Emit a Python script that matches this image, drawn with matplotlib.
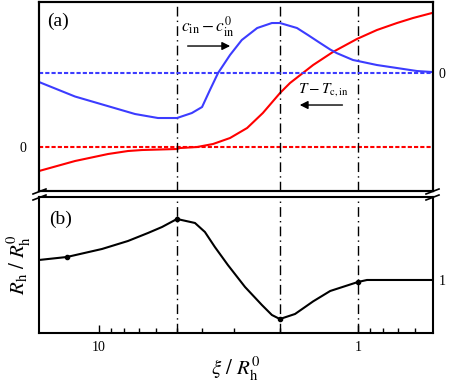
import matplotlib
matplotlib.use('Agg')
import matplotlib.pyplot as plt
import numpy as np
from matplotlib.lines import Line2D
from matplotlib.ticker import LogLocator, NullFormatter, FixedLocator, FixedFormatter

plt.rcParams['font.family'] = ['Liberation Serif', 'DejaVu Serif']
plt.rcParams['mathtext.fontset'] = 'stix'

# 数据
xi_blue = [17.05, 12.38, 7.26, 5.92, 5.0, 4.38, 4.0, 3.73, 3.47, 3.12, 2.81, 2.45,
           2.15, 2.0, 1.72, 1.56, 1.40, 1.28, 1.21, 1.045, 1.0, 0.845, 0.707, 0.592, 0.518]
c_blue = [-0.09, -0.235, -0.41, -0.45, -0.45, -0.40, -0.34, -0.17, 0.0, 0.18, 0.33, 0.45,
          0.50, 0.50, 0.45, 0.38, 0.30, 0.235, 0.20, 0.13, 0.12, 0.08, 0.05, 0.02, 0.01]

xi_red = [17.05, 12.38, 9.23, 7.73, 6.82, 5.0, 4.87, 4.18, 3.63, 3.12, 2.68, 2.33, 2.0,
          1.83, 1.67, 1.49, 1.25, 1.01, 0.845, 0.707, 0.613, 0.518]
t_red = [-0.24, -0.14, -0.07, -0.04, -0.03, -0.02, -0.01, 0.0, 0.03, 0.09, 0.19, 0.34, 0.54,
         0.64, 0.72, 0.82, 0.95, 1.08, 1.17, 1.24, 1.29, 1.34]

xi_rh = [17.05, 13.3, 9.74, 7.73, 6.47, 5.71, 5.0, 4.26, 3.90, 3.57, 3.18, 2.73, 2.35,
         2.15, 2.04, 2.0, 1.75, 1.60, 1.49, 1.28, 1.0, 0.923, 0.707, 0.518]
rh = [1.10, 1.115, 1.155, 1.195, 1.235, 1.265, 1.305, 1.285, 1.24, 1.165, 1.075, 0.965, 0.875,
      0.825, 0.81, 0.805, 0.83, 0.865, 0.893, 0.945, 0.99, 1.0, 1.0, 1.0]
mark_xi = [13.3, 5.0, 2.0, 1.0]

vlines = [5, 2, 1]
xlim = (17.05, 0.513)

fig = plt.figure(figsize=(4.5, 3.88), dpi=100)
ax_a = fig.add_axes([0.0867, 0.5077, 0.8756, 0.4871])
ax_b = fig.add_axes([0.0867, 0.1418, 0.8756, 0.3505])

dashdot = (0, (7, 3, 1, 3))

# (a) 上图: 红线用左轴, 蓝线用右轴
ax_a2 = ax_a.twinx()
for ax in (ax_a, ax_a2):
    ax.set_xscale('log')
    ax.set_xlim(*xlim)
ax_a.set_ylim(-0.44, 1.45)
ax_a2.set_ylim(-1.18, 0.71)

ax_a.plot(xi_red, t_red, color='#ff0000', lw=1.5)
ax_a.axhline(0, color='#ff0000', lw=1.5, ls=(0, (2, 1)))
ax_a2.plot(xi_blue, c_blue, color='#3c3cff', lw=1.5)
ax_a2.axhline(0, color='#3c3cff', lw=1.5, ls=(0, (2, 1)))
for v in vlines:
    ax_a.axvline(v, color='k', lw=1, ls=dashdot)

ax_a.set_xticks([])
ax_a.xaxis.set_minor_locator(plt.NullLocator())
ax_a.set_yticks([0])
ax_a.set_yticklabels(['0'])
ax_a.tick_params(axis='y', length=0, pad=9, labelsize=10)
ax_a2.set_yticks([0])
ax_a2.set_yticklabels(['0'])
ax_a2.tick_params(axis='y', length=0, pad=4, labelsize=10)
for ax in (ax_a, ax_a2):
    for s in ax.spines.values():
        s.set_linewidth(1.5)

ax_a.text(0.02, 0.945, '(a)', transform=ax_a.transAxes, fontsize=14, va='top')
ax_a2.text(3.79, 0.46, r'$c_{\rm in}-c_{\rm in}^{0}$', fontsize=12.5, ha='center', va='center')
ax_a2.annotate('', xy=(3.04, 0.27), xytext=(4.66, 0.27),
               arrowprops=dict(arrowstyle='-|>', color='k', lw=1, mutation_scale=12))
ax_a.text(1.36, 0.57, r'$T-T_{\rm c,in}$', fontsize=11, ha='center', va='center')
ax_a.annotate('', xy=(1.72, 0.42), xytext=(1.12, 0.42),
              arrowprops=dict(arrowstyle='-|>', color='k', lw=1, mutation_scale=12))

# (b) 下图
ax_b.set_xscale('log')
ax_b.set_xlim(*xlim)
ax_b.set_ylim(0.735, 1.415)
idx = [xi_rh.index(m) for m in mark_xi]
ax_b.plot(xi_rh, rh, color='k', lw=1.5, marker='o', markersize=3, markevery=idx)
for v in vlines:
    ax_b.axvline(v, color='k', lw=1, ls=dashdot)

ax_b.xaxis.set_major_locator(FixedLocator([10, 1]))
ax_b.xaxis.set_major_formatter(FixedFormatter(['10', '1']))
ax_b.xaxis.set_minor_locator(LogLocator(base=10, subs=np.arange(2, 10)))
ax_b.xaxis.set_minor_formatter(NullFormatter())
ax_b.tick_params(axis='x', which='major', direction='in', length=6, width=1, labelsize=10, pad=6)
ax_b.tick_params(axis='x', which='minor', direction='in', length=3.5, width=1)
ax_b.yaxis.tick_right()
ax_b.set_yticks([1])
ax_b.set_yticklabels(['1'])
ax_b.tick_params(axis='y', length=0, pad=4, labelsize=10)
for s in ax_b.spines.values():
    s.set_linewidth(1.5)

ax_b.text(0.025, 0.9, '(b)', transform=ax_b.transAxes, fontsize=14, va='top')
ax_b.set_xlabel(r'$\xi\ /\ R_{\rm h}^{0}$', fontsize=15, labelpad=1)
fig.text(0.042, 0.317, r'$R_{\rm h}\ /\ R_{\rm h}^{0}$', fontsize=15, rotation=90,
         ha='center', va='center')

# 断轴标记
W, H = 450.0, 388.0
for x0 in (33, 426):
    for dy in (0, 6):
        fig.add_artist(Line2D([x0 / W, (x0 + 13) / W],
                              [1 - (194 + dy) / H, 1 - (189 + dy) / H],
                              color='k', lw=1.2))

fig.savefig('out.png', dpi=100)
